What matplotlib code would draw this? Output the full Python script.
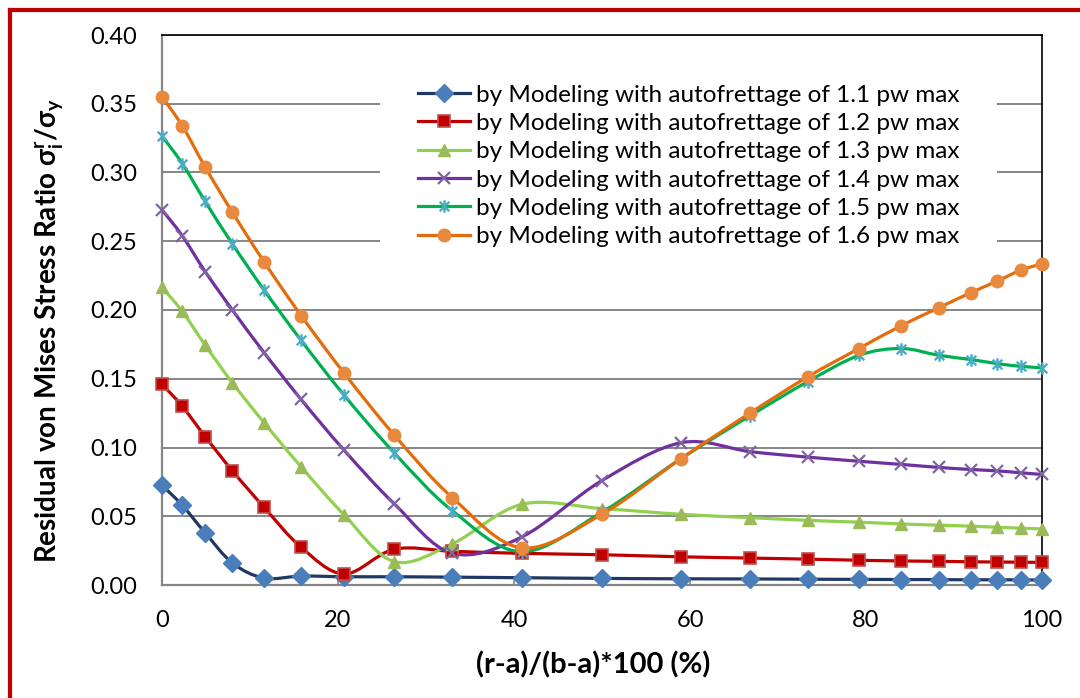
import numpy as np
import matplotlib
matplotlib.use("Agg")
import matplotlib.pyplot as plt
from matplotlib.path import Path
from matplotlib.patches import PathPatch
from matplotlib.lines import Line2D

plt.rcParams['font.family'] = ['Lato', 'DejaVu Sans']
plt.rcParams['mathtext.fontset'] = 'custom'
plt.rcParams['mathtext.bf'] = 'Lato:bold'
plt.rcParams['mathtext.rm'] = 'Lato:bold'
plt.rcParams['mathtext.default'] = 'bf'

# data
pos = [0, 2.3, 4.9, 8.0, 11.6, 15.8, 20.7, 26.4, 33.0, 40.9, 50.0,
       59.0, 66.8, 73.4, 79.2, 84.0, 88.3, 91.9, 94.9, 97.6, 100]
s11 = [0.0725, 0.058, 0.038, 0.016, 0.005, 0.0065, 0.006, 0.006, 0.0057, 0.0053, 0.0048,
       0.0045, 0.0044, 0.0042, 0.0041, 0.004, 0.0039, 0.0038, 0.0038, 0.0037, 0.0036]
s12 = [0.146, 0.130, 0.108, 0.083, 0.0565, 0.0275, 0.008, 0.026, 0.0245, 0.023, 0.022,
       0.0205, 0.0196, 0.0188, 0.018, 0.0175, 0.0172, 0.0169, 0.0167, 0.0166, 0.0164]
s13 = [0.2165, 0.199, 0.1745, 0.147, 0.118, 0.086, 0.051, 0.017, 0.030, 0.0587, 0.0556,
       0.0514, 0.049, 0.047, 0.0457, 0.0444, 0.0435, 0.0428, 0.042, 0.0413, 0.0408]
s14 = [0.2728, 0.254, 0.228, 0.200, 0.169, 0.135, 0.098, 0.059, 0.023, 0.035, 0.076,
       0.1035, 0.097, 0.093, 0.090, 0.0877, 0.0855, 0.084, 0.083, 0.0816, 0.0804]
s15 = [0.3265, 0.3065, 0.279, 0.248, 0.2145, 0.178, 0.138, 0.096, 0.054, 0.0242, 0.053,
       0.092, 0.123, 0.148, 0.167, 0.172, 0.167, 0.164, 0.161, 0.159, 0.158]
s16 = [0.355, 0.334, 0.304, 0.271, 0.235, 0.196, 0.154, 0.109, 0.0635, 0.027, 0.0515,
       0.092, 0.125, 0.1515, 0.172, 0.1886, 0.2017, 0.2126, 0.221, 0.229, 0.2336]
levels = ['1.1', '1.2', '1.3', '1.4', '1.5', '1.6']

# excel-like star marker (x plus vertical bar)
star = Path([(-1, -1), (1, 1), (-1, 1), (1, -1), (0, -1.3), (0, 1.3)],
            [Path.MOVETO, Path.LINETO, Path.MOVETO, Path.LINETO, Path.MOVETO, Path.LINETO])

styles = [
    ('#1F3864', 'D', '#4A7EBB', '#4A7EBB', 9, 1),
    ('#C00000', 's', '#C00000', '#C0504D', 8, 1.2),
    ('#92D050', '^', '#9BBB59', '#9BBB59', 9, 1),
    ('#7030A0', 'x', '#8064A2', '#8064A2', 8, 1.6),
    ('#00B050', star, '#4BACC6', '#4BACC6', 9, 1.7),
    ('#E46C0A', 'o', '#E8893E', '#E8893E', 9, 1),
]


def smooth_path(x, y):
    # bezier smoothing through the points, like excel's smoothed lines
    p = np.column_stack([x, y])
    n = len(p)
    verts = [p[0]]
    codes = [Path.MOVETO]
    for i in range(n - 1):
        p0 = p[i - 1] if i > 0 else p[i]
        p3 = p[i + 2] if i + 2 < n else p[i + 1]
        c1 = p[i] + (p[i + 1] - p0) / 6.0
        c2 = p[i + 1] - (p3 - p[i]) / 6.0
        verts += [c1, c2, p[i + 1]]
        codes += [Path.CURVE4] * 3
    return Path(verts, codes)


fig = plt.figure(figsize=(10.8, 6.98), dpi=100)
ax = fig.add_axes([162/1080, 1 - 585/698, 880/1080, 550/698])

handles = []
for ys, lev, (lc, mk, mfc, mec, ms, mew) in zip([s11, s12, s13, s14, s15, s16], levels, styles):
    ax.add_patch(PathPatch(smooth_path(pos, ys), fill=False, edgecolor=lc, lw=2.3, zorder=3))
    ax.plot(pos, ys, ls='none', marker=mk, ms=ms, mfc=mfc, mec=mec, mew=mew, zorder=4, clip_on=False)
    handles.append(Line2D([], [], color=lc, lw=2.3, marker=mk, ms=ms, mfc=mfc, mec=mec, mew=mew,
                          label='by Modeling with autofrettage of %s pw max' % lev))

ax.set_xlim(0, 100)
ax.set_ylim(0, 0.40)
ax.set_xticks(np.arange(0, 101, 20))
ax.set_yticks(np.arange(0, 0.401, 0.05))
ax.set_yticklabels(['%.2f' % v for v in np.arange(0, 0.401, 0.05)])
ax.tick_params(axis='x', direction='in', length=6, width=1.2, color='#868686', labelsize=17, pad=18)
ax.tick_params(axis='y', length=0, labelsize=17, pad=18)
ax.grid(axis='y', color='#868686', lw=1.4)
ax.set_axisbelow(True)
for s in ['left', 'bottom']:
    ax.spines[s].set_color('#868686')
    ax.spines[s].set_linewidth(1.6)
for s in ['top', 'right']:
    ax.spines[s].set_color('black')
    ax.spines[s].set_linewidth(1.2)

leg = ax.legend(handles=handles, loc='upper left', bbox_to_anchor=((380-162)/880, (585-47)/550),
                borderaxespad=0, borderpad=1.55, frameon=True, fancybox=False, fontsize=17.5,
                handlelength=2.15, handletextpad=0.25, labelspacing=0.3)
leg.get_frame().set_edgecolor('none')
leg.get_frame().set_facecolor('white')
leg.get_frame().set_alpha(1)
leg.set_zorder(2.5)

fig.text(593/1080, 1 - 665/698, '(r-a)/(b-a)*100 (%)', ha='center', va='center',
         fontsize=21, fontweight='bold')
fig.text(50/1080, 1 - 331/698, r'Residual von Mises Stress Ratio σ$^{r}_{i}$/σ$_{y}$',
         ha='center', va='center', rotation=90, fontsize=20, fontweight='bold')

# red frame (left and top edges visible)
fig.add_artist(Line2D([10/1080, 10/1080], [0, 1 - 10/698], color='#C00000', lw=3))
fig.add_artist(Line2D([10/1080, 1], [1 - 10/698, 1 - 10/698], color='#C00000', lw=3))

plt.savefig('out.png', dpi=100)
